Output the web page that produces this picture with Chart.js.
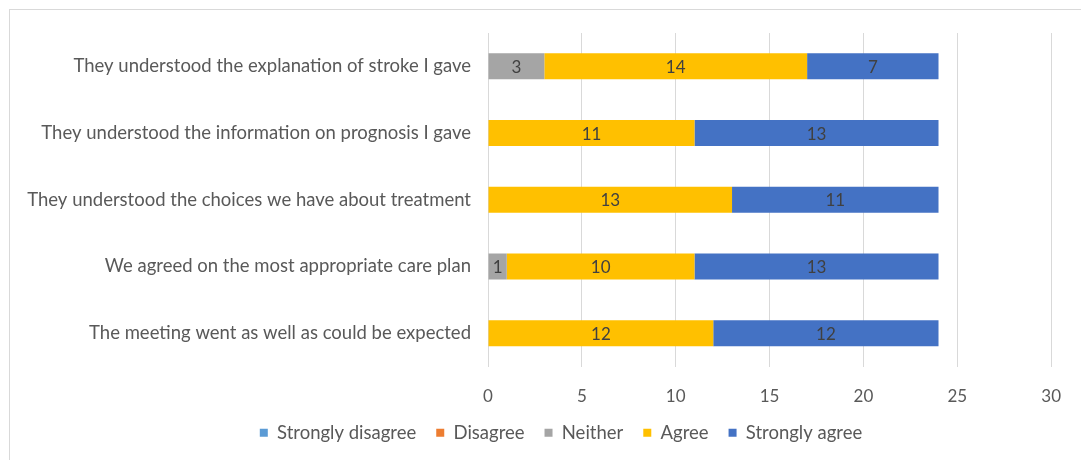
<!DOCTYPE html>
<html>
<head>
<meta charset="utf-8">
<script src="https://cdn.jsdelivr.net/npm/chart.js@4.4.0/dist/chart.umd.min.js"></script>
<style>
  html, body { margin: 0; padding: 0; background: #fff; }
  #wrap { position: relative; width: 1081px; height: 460px; overflow: hidden; }
  #frame { position: absolute; left: 9px; top: 9px; width: 1200px; height: 600px;
           border-top: 1px solid #d9d9d9; border-left: 1px solid #d9d9d9; }
  #box { position: absolute; left: 0; top: 0; width: 1081px; height: 460px; }
</style>
</head>
<body>
<div id="wrap">
  <div id="frame"></div>
  <div id="box"><canvas id="likertChart"></canvas></div>
</div>
<script>
// Survey statements (top to bottom)
var statements = [
    'They understood the explanation of stroke I gave',
    'They understood the information on prognosis I gave',
    'They understood the choices we have about treatment',
    'We agreed on the most appropriate care plan',
    'The meeting went as well as could be expected'
];
var stronglyDisagree = [0, 0, 0, 0, 0];
var disagree = [0, 0, 0, 0, 0];
var neither = [3, 0, 0, 1, 0];
var agree = [14, 11, 13, 10, 12];
var stronglyAgree = [7, 13, 11, 13, 12];
var xTicks = [0, 5, 10, 15, 20, 25, 30];

var textGrey = '#595959';
var fontFam = 'Lato';

// draws the value inside each segment (no datalabels plugin available)
var segmentLabels = {
    id: 'segmentLabels',
    afterDatasetsDraw: function(chart) {
        var ctx = chart.ctx;
        ctx.save();
        ctx.font = '17px ' + fontFam;
        ctx.fillStyle = '#404040';
        ctx.textAlign = 'center';
        ctx.textBaseline = 'middle';
        chart.data.datasets.forEach(function(ds, i) {
            var meta = chart.getDatasetMeta(i);
            if (meta.hidden) return;
            meta.data.forEach(function(bar, j) {
                var v = ds.data[j];
                if (!v) return;
                var p = bar.getProps(['x', 'y', 'base'], true);
                ctx.fillText(String(v), (p.x + p.base) / 2, p.y + 1);
            });
        });
        ctx.restore();
    }
};

// the original legend sits a bit right of centre (the frame runs past the crop)
var legendShift = {
    id: 'legendShift',
    afterLayout: function(chart) {
        if (chart.legend) {
            chart.legend.left += 31;
            chart.legend.right += 31;
        }
    }
};

var ctx = document.getElementById('likertChart').getContext('2d');
var likertChart = new Chart(ctx, {
    type: 'bar',
    data: {
        labels: statements,
        datasets: [
            { label: 'Strongly disagree', data: stronglyDisagree, backgroundColor: '#5B9BD5' },
            { label: 'Disagree', data: disagree, backgroundColor: '#ED7D31' },
            { label: 'Neither', data: neither, backgroundColor: '#A5A5A5' },
            { label: 'Agree', data: agree, backgroundColor: '#FFC000' },
            { label: 'Strongly agree', data: stronglyAgree, backgroundColor: '#4472C4' }
        ]
    },
    options: {
        indexAxis: 'y',
        responsive: true,
        maintainAspectRatio: false,
        animation: false,
        datasets: { bar: { barPercentage: 0.39, categoryPercentage: 1.0 } },
        layout: { padding: { left: 0, right: 21, top: 33, bottom: 8 } },
        scales: {
            x: {
                stacked: true,
                min: 0,
                max: 30,
                afterBuildTicks: function(scale) {
                    scale.ticks = xTicks.map(function(v) { return { value: v }; });
                },
                afterFit: function(scale) { scale.height = 37; },
                grid: { color: '#d9d9d9', drawTicks: false },
                border: { display: false },
                ticks: { color: textGrey, font: { family: fontFam, size: 17 }, padding: 20 }
            },
            y: {
                stacked: true,
                afterFit: function(scale) { scale.width = 488; },
                grid: { display: false },
                border: { display: false },
                ticks: { color: textGrey, font: { family: fontFam, size: 18.5 }, padding: 9 }
            }
        },
        plugins: {
            legend: {
                position: 'bottom',
                labels: {
                    color: textGrey,
                    font: { family: fontFam, size: 18.5 },
                    boxWidth: 8,
                    boxHeight: 8,
                    padding: 20
                }
            },
            tooltip: { enabled: false }
        }
    },
    plugins: [segmentLabels, legendShift]
});
</script>
</body>
</html>
